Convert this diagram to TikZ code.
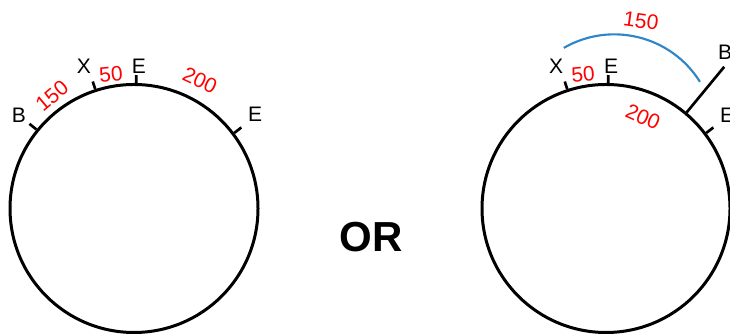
\documentclass[tikz,border=0pt]{standalone}
\usepackage{fontspec}
\setmainfont{Liberation Sans}
\definecolor{arcblue}{RGB}{46,134,200}
\begin{document}
\begin{tikzpicture}[x=0.75pt,y=0.75pt,
  ring/.style={draw=black,line width=2.25pt,circle,inner sep=0pt,minimum size=186pt},
  tick/.style={draw=black,line width=2pt},
  lab/.style={font=\fontsize{15.75}{18}\selectfont,inner sep=0pt},
  num/.style={lab,text=red}]
\useasboundingbox (0,0) rectangle (730,334);
\clip (0,0) rectangle (730,334);
% left circle
\node[ring] (L) at (134,125.5) {};
\draw[tick] (L.141) -- ++(141:9);
\draw[tick] (L.108) -- ++(108:8);
\draw[tick] (L.89) -- ++(89:8);
\draw[tick] (L.37.6) -- ++(37.6:9);
\node[lab] (LB) at (19,219) {B};
\node[num,rotate=40] (L150) at (52,238) {150};
\node[lab] (LX) at (84,268) {X};
\node[num,rotate=5] (L50) at (111,260) {50};
\node[lab] (LE1) at (139,268) {E};
\node[num,rotate=-25] (L200) at (200,254) {200};
\node[lab] (LE2) at (255,220) {E};
% OR
\node[font=\fontsize{31.5}{36}\selectfont\bfseries,inner sep=0pt] (OR) at (371,97) {OR};
% right circle
\node[ring] (R) at (606,125.5) {};
\draw[tick] (R.108) -- ++(108:8);
\draw[tick] (R.89) -- ++(89:8);
\draw[tick] (R.50.5) -- ++(50.5:59) coordinate (Btop);
\draw[tick] (R.37.6) -- ++(37.6:9);
\node[lab] (RX) at (556,268) {X};
\node[num,rotate=5] (R50) at (583,260) {50};
\node[lab] (RE1) at (611,268) {E};
\node[num,rotate=-24] (R200) at (643,217) {200};
\node[lab] (RB) at (725,282) {B};
\node[lab] (RE2) at (727,219) {E};
\coordinate (ArcStart) at (563.8,286.1);
\draw[arcblue,line width=1.6pt] (ArcStart) arc[start angle=120,end angle=32,radius=101];
\node[num,rotate=-8] (R150) at (641,313) {150};
\end{tikzpicture}
\end{document}
